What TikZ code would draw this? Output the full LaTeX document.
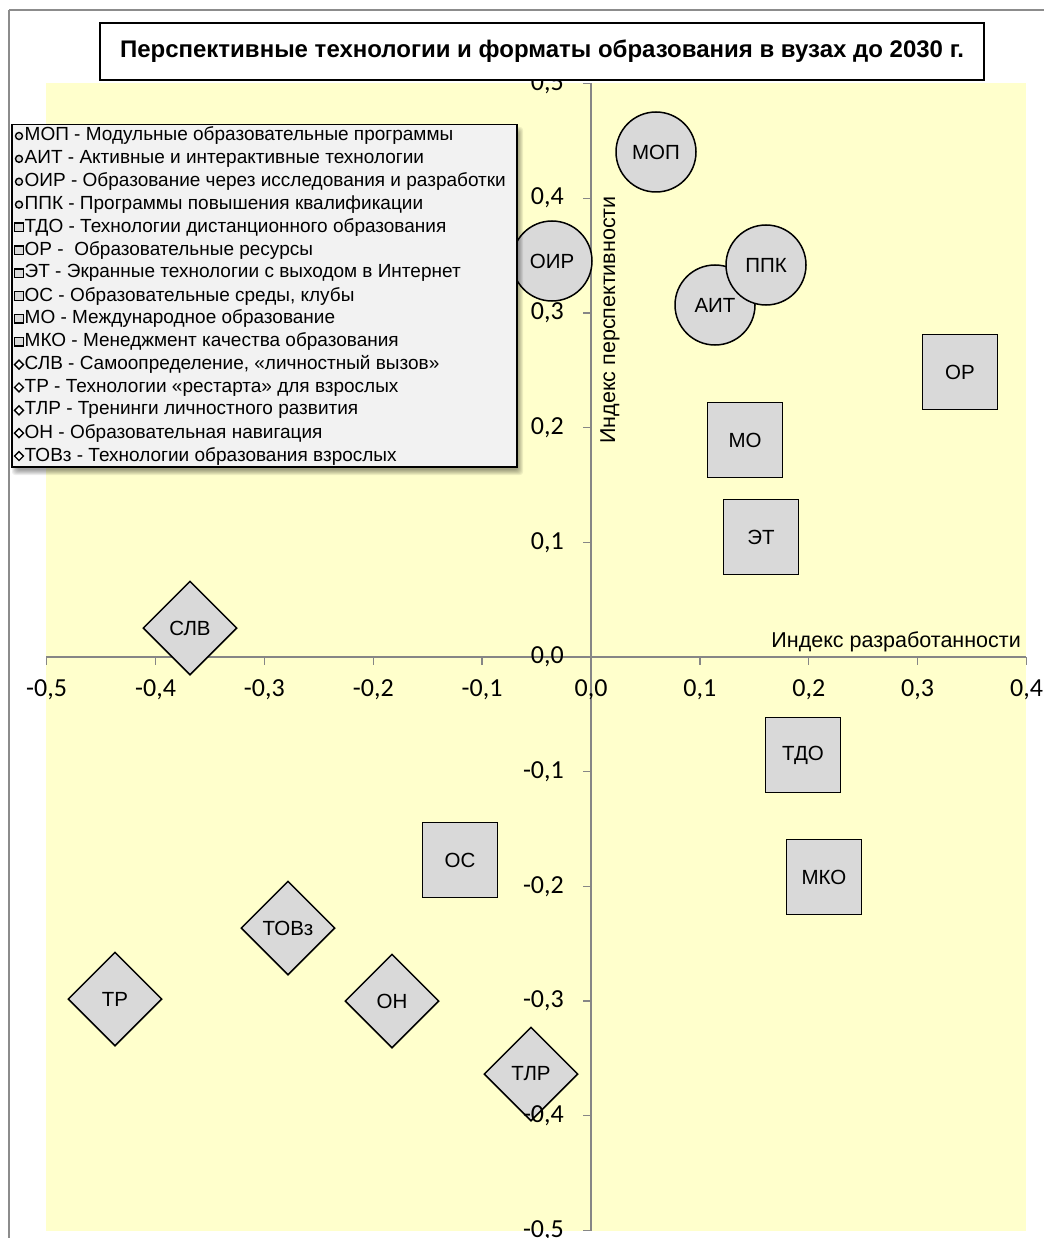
\documentclass[tikz,border=0pt]{standalone}
\usepackage{fontspec}
\setmainfont{Liberation Sans}
\newfontfamily\calib{Carlito}
\usetikzlibrary{shapes.geometric}

\definecolor{plotbg}{HTML}{FFFFCC}
\definecolor{markfill}{HTML}{D9D9D9}
\definecolor{axisgray}{HTML}{868686}
\definecolor{legendfill}{HTML}{F2F2F2}
\definecolor{framegray}{HTML}{8C8C8C}

\newcommand\lblfont{\fontsize{20.5}{24}\selectfont}
\newcommand\tickfont{\calib\fontsize{26}{28}\selectfont}
\newcommand\axtitlefont{\fontsize{21.5}{24}\selectfont}
\newcommand\legfont{\fontsize{19}{22}\selectfont}

\tikzset{
  bubble/.style={circle, draw=black, line width=1.5pt, fill=markfill,
    minimum size=80pt, inner sep=0pt, font=\lblfont},
  sqbox/.style={rectangle, draw=black, line width=1.5pt, fill=markfill,
    minimum size=75pt, inner sep=0pt, font=\lblfont},
  rhomb/.style={diamond, draw=black, line width=1.5pt, fill=markfill,
    minimum width=94pt, minimum height=94pt, inner sep=0pt, font=\lblfont},
  tick/.style={axisgray, line width=1.3pt},
  ticklbl/.style={font=\tickfont, inner sep=0pt},
  legc/.style={circle, draw=black, line width=1.4pt, fill=markfill,
    minimum size=7pt, inner sep=0pt},
  legs/.style={rectangle, draw=black, line width=1.4pt, fill=markfill,
    minimum size=8.5pt, inner sep=0pt},
  legd/.style={diamond, draw=black, line width=1.4pt, fill=white,
    minimum width=9.5pt, minimum height=9.5pt, inner sep=0pt},
  legtext/.style={anchor=west, font=\legfont, inner sep=0pt},
}

\begin{document}
\begin{tikzpicture}[x=1pt, y=-1pt]
\useasboundingbox (0,0) rectangle (1044,1238);
\fill[white] (0,0) rectangle (1044,1238);

% chart frame (left and top edges)
\draw[framegray, line width=1.2pt] (9,10) -- (1044,10);
\draw[framegray, line width=2.2pt] (9,10) -- (9,1238);

% plot area
\fill[plotbg] (46,83) rectangle (1026,1231);

% axes
\coordinate (ytop) at (591,83);
\coordinate (ybot) at (591,1231);
\coordinate (xleft) at (46,657);
\coordinate (xright) at (1026,657);
\draw[tick] (ytop) -- (ybot);
\draw[tick] (xleft) -- (xright);
\foreach \v in {-5,...,5} {
  \draw[tick] (583,{657-\v*114.7}) -- (591,{657-\v*114.7});
}
\foreach \v in {-5,...,4} {
  \draw[tick] ({591+\v*108.87},657) -- ({591+\v*108.87},665);
}

% data markers
\node[sqbox] (OR)  at (960,372) {\raisebox{-5pt}{ОР}};
\node[sqbox] (MO)  at (745,440) {\raisebox{-6pt}{МО}};
\node[sqbox] (ET)  at (761,537) {\raisebox{-6pt}{ЭТ}};
\node[sqbox] (TDO) at (803,755) {\raisebox{-2pt}{ТДО}};
\node[sqbox] (MKO) at (824,877) {\raisebox{-3pt}{МКО}};
\node[sqbox] (OS)  at (460,860) {\raisebox{-3pt}{ОС}};

\node[rhomb] (SLV)  at (190,628)  {СЛВ};
\node[rhomb] (TOVz) at (288,928)  {ТОВз};
\node[rhomb] (TR)   at (115,999)  {ТР};
\node[rhomb] (ON)   at (392,1001) {\raisebox{-2pt}{ОН}};
\node[rhomb] (TLR)  at (531,1074) {\raisebox{-2pt}{ТЛР}};

\node[bubble] (MOP) at (656,152) {МОП};
\node[bubble] (OIR) at (552,261) {ОИР};
\node[bubble] (AIT) at (715,305) {\raisebox{-2pt}{АИТ}};
\node[bubble] (PPK) at (766,265) {ППК};

% tick labels
\foreach \v/\t [count=\i] in {-5/{-0,5},-4/{-0,4},-3/{-0,3},-2/{-0,2},-1/{-0,1},
                              0/{0,0},1/{0,1},2/{0,2},3/{0,3},4/{0,4}} {
  \node[ticklbl] (xl\i) at ({591+\v*108.87},690) {\t};
}
\foreach \v/\t [count=\i] in {-5/{-0,5},-4/{-0,4},-3/{-0,3},-2/{-0,2},-1/{-0,1},
                              0/{0,0},1/{0,1},2/{0,2},3/{0,3},4/{0,4},5/{0,5}} {
  \node[ticklbl, anchor=east] (yl\i) at (564,{657-\v*114.7}) {\t};
}

% axis titles
\node[font=\axtitlefont, anchor=south east, inner sep=0pt] (xtitle) at (1021,652)
  {Индекс разработанности};
\node[font=\axtitlefont, rotate=90, inner sep=0pt] (ytitle) at (610,320)
  {Индекс перспективности};

% legend with soft shadow
\foreach \k in {0,...,5} {
  \fill[black, opacity=0.07, rounded corners=3pt]
    ({15-3+\k},{130-3+\k}) rectangle ({520+3-\k},{472+3-\k});
}
\node[draw=black, line width=1.5pt, fill=legendfill, anchor=north west,
  minimum width=505pt, minimum height=342pt, inner sep=0pt] (legend) at (11,124) {};

\foreach \kind/\txt [count=\i] in {
  c/{МОП - Модульные образовательные программы},
  c/{АИТ - Активные и интерактивные технологии},
  c/{ОИР - Образование через исследования и разработки},
  c/{ППК - Программы повышения квалификации},
  s/{ТДО - Технологии дистанционного образования},
  s/{ОР -\ \ Образовательные ресурсы},
  s/{ЭТ - Экранные технологии с выходом в Интернет},
  s/{ОС - Образовательные среды, клубы},
  s/{МО - Международное образование},
  s/{МКО - Менеджмент качества образования},
  d/{СЛВ - Самоопределение, «личностный вызов»},
  d/{ТР - Технологии «рестарта» для взрослых},
  d/{ТЛР - Тренинги личностного развития},
  d/{ОН - Образовательная навигация},
  d/{ТОВз - Технологии образования взрослых}} {
  \node[leg\kind] (lm\i) at (19,{136+22.86*(\i-1)}) {};
  \node[legtext] (lt\i) at (24.5,{136+22.86*(\i-1)}) {\txt};
}

% title box
\node[draw=black, line width=1.5pt, fill=white, minimum width=884pt,
  minimum height=57pt, inner sep=0pt, font=\bfseries\fontsize{24}{28}\selectfont]
  (title) at (542,51.5)
  {Перспективные технологии и форматы образования в вузах до 2030 г.};
\end{tikzpicture}
\end{document}
